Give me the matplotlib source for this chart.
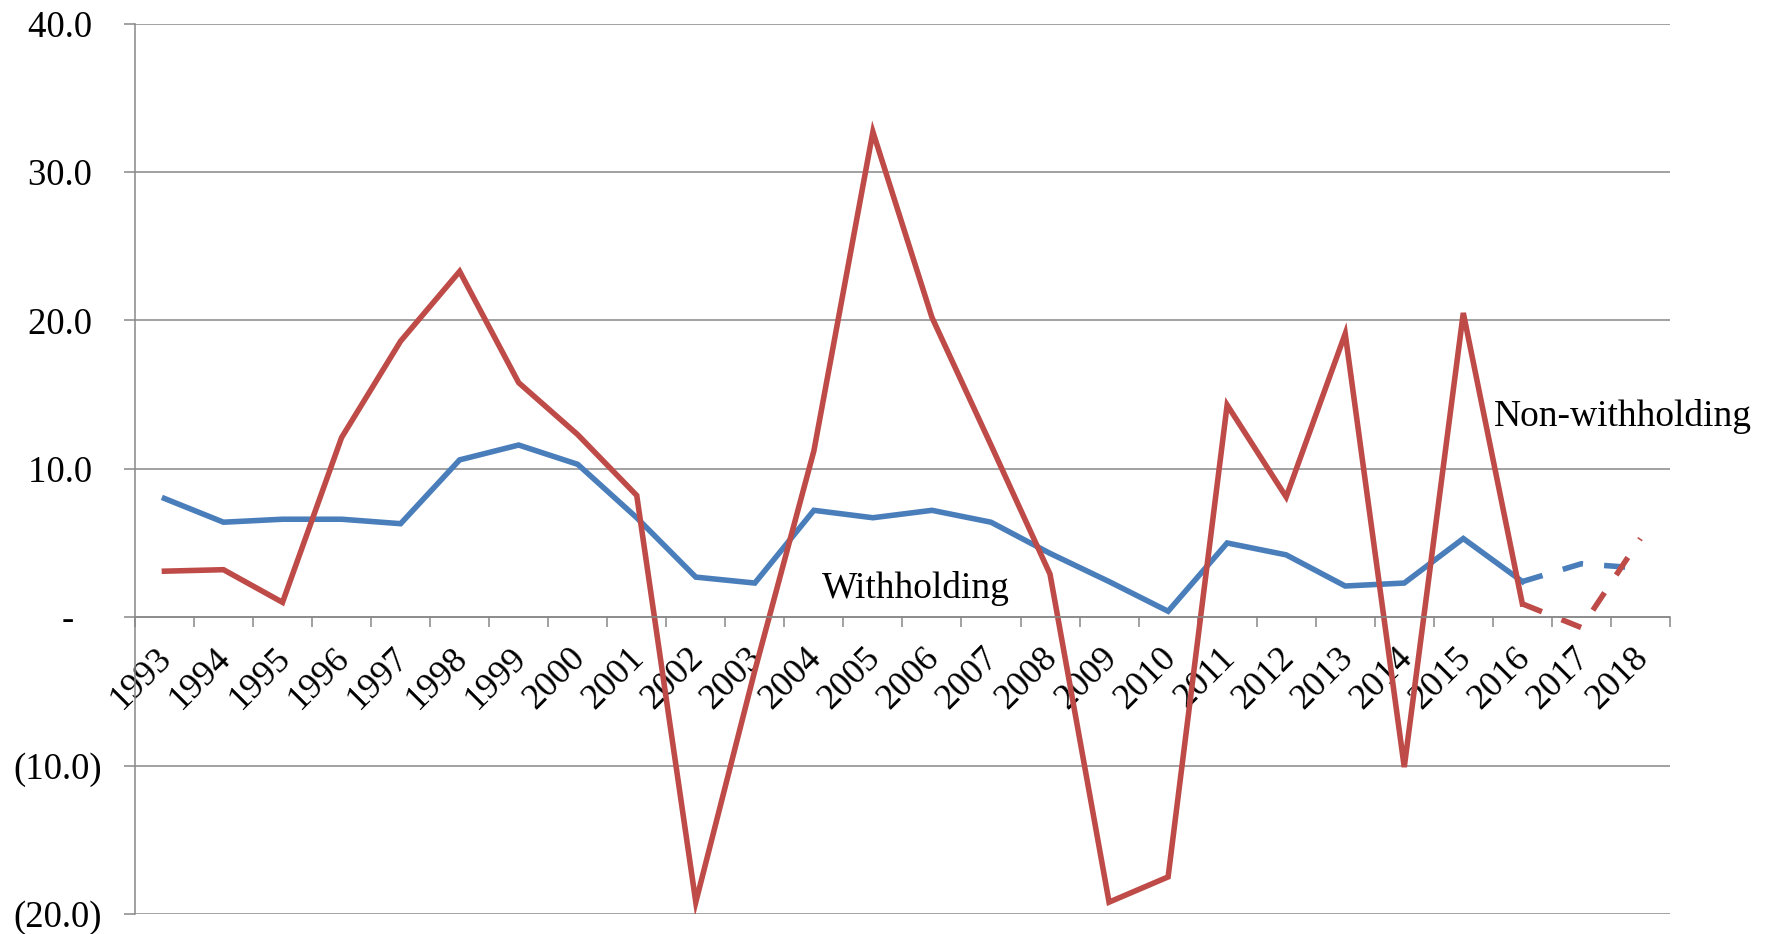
import matplotlib.pyplot as plt
import numpy as np

years = ['1993', '1994', '1995', '1996', '1997', '1998', '1999', '2000', '2001',
         '2002', '2003', '2004', '2005', '2006', '2007', '2008', '2009', '2010',
         '2011', '2012', '2013', '2014', '2015', '2016', '2017', '2018']

withholding = [8.0, 6.4, 6.6, 6.6, 6.3, 10.6, 11.6, 10.3, 6.7, 2.7, 2.3, 7.2, 6.7,
               7.2, 6.4, 4.3, 2.4, 0.4, 5.0, 4.2, 2.1, 2.3, 5.3, 2.4, 3.6, 3.3]
non_withholding = [3.1, 3.2, 1.0, 12.1, 18.6, 23.3, 15.8, 12.3, 8.2, -19.2, -3.6,
                   11.2, 32.7, 20.2, 11.6, 2.9, -19.2, -17.5, 14.3, 8.1, 19.1,
                   -10.1, 20.5, 0.9, -0.7, 5.3]

ytick_values = [-20, -10, 0, 10, 20, 30, 40]
ytick_labels = ['(20.0)', '(10.0)', '-   ', '10.0 ', '20.0 ', '30.0 ', '40.0 ']

# last years are projections, drawn dashed
n_actual = 24

blue = '#4A7EBB'
red = '#BE4B48'
grey = '#888888'

plt.rcParams['font.family'] = ['Liberation Serif', 'DejaVu Serif']

fig = plt.figure(figsize=(17.66, 9.34), dpi=100)
ax = fig.add_axes([0.0764, 0.0214, 0.8692, 0.9534])

# spine position first, it resets the ticks
ax.spines['bottom'].set_position(('data', 0))
ax.spines['bottom'].set_color(grey)
ax.spines['bottom'].set_linewidth(1.1)
ax.spines['left'].set_color(grey)
ax.spines['left'].set_linewidth(1.1)
ax.spines['top'].set_visible(False)
ax.spines['right'].set_visible(False)

x = np.arange(len(years))
w = np.array(withholding)
nw = np.array(non_withholding)

lw = 4.0
ax.plot(x[:n_actual], w[:n_actual], color=blue, lw=lw, solid_joinstyle='miter')
ax.plot(x[n_actual - 1:], w[n_actual - 1:], color=blue, lw=lw, dashes=(3.8, 3.8))
ax.plot(x[:n_actual], nw[:n_actual], color=red, lw=lw, solid_joinstyle='miter')
ax.plot(x[n_actual - 1:], nw[n_actual - 1:], color=red, lw=lw, dashes=(3.8, 3.8))

ax.set_xlim(-0.5, len(years) - 0.5)
ax.set_ylim(-20, 40)

ax.set_yticks(ytick_values)
ax.set_yticklabels(ytick_labels, fontsize=26.5)
ax.tick_params(axis='y', length=8, width=1.1, color=grey, pad=16)
ax.yaxis.grid(True, color=grey, lw=1.1)
ax.set_axisbelow(True)

# labels at category centres, tick marks at the boundaries
ax.set_xticks(x)
ax.set_xticklabels(years, fontsize=26, rotation=45, ha='right',
                   va='center_baseline', rotation_mode='anchor')
ax.set_xticks(np.arange(len(years) + 1) - 0.5, minor=True)
ax.tick_params(axis='x', which='major', length=0, pad=24)
ax.tick_params(axis='x', which='minor', length=7, width=1.1, color=grey)

ax.text(12.73, 1.3, 'Withholding', fontsize=27, ha='center', va='baseline')
ax.text(24.71, 12.85, 'Non-withholding', fontsize=27, ha='center', va='baseline')

plt.savefig('out.png', dpi=100)
